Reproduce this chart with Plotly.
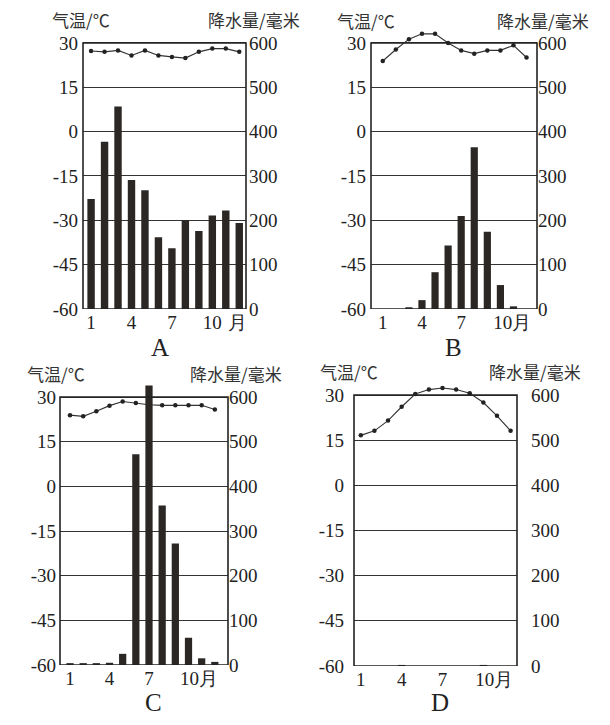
# Climate charts A-D: monthly temperature (line) and precipitation (bars)
import plotly.graph_objects as go

OFF = 8                      # page body margin in the browser
W, H = 610 - 2 * OFF, 725 - 2 * OFF

months = list(range(1, 13))

# temperature (°C)
temp_a = [27.3, 27.0, 27.5, 25.8, 27.5, 25.8, 25.3, 24.9, 27.0, 28.1, 28.1, 27.0]
temp_b = [23.9, 27.8, 31.3, 33.1, 33.1, 30.0, 27.5, 26.4, 27.5, 27.5, 29.2, 25.1]
temp_c = [23.9, 23.5, 25.2, 27.1, 28.5, 28.0, 27.4, 27.2, 27.2, 27.2, 27.2, 25.8]
temp_d = [16.6, 18.1, 21.5, 26.1, 30.3, 31.8, 32.3, 31.8, 30.6, 27.5, 23.1, 18.1]

# precipitation (mm)
rain_a = [248, 377, 457, 291, 268, 162, 137, 201, 176, 211, 222, 194]
rain_b = [0, 0, 2, 20, 83, 143, 210, 365, 174, 54, 6, 0]
rain_c = [2, 2, 2, 5, 25, 472, 626, 357, 272, 61, 15, 7]
rain_d = [0, 0, 0, 2, 0, 0, 0, 0, 0, 2, 0, 0]

temp_ticks = [-60, -45, -30, -15, 0, 15, 30]
temp_tick_text = ["-60", "-45", "-30", "-15", "0", "15", "30"]
rain_ticks = [0, 100, 200, 300, 400, 500, 600]
panel_names = ["A", "B", "C", "D"]

# per panel: box in window pixels (left, right, top=30°C line, bottom=-60°C line), x range, month ticks
boxes = [(83, 246, 43, 309), (371, 537, 43, 309), (60, 228, 397, 665), (354, 517, 395, 666)]
xranges = [[0.4, 12.5], [0.1, 12.8], [0.24, 13.0], [0.5, 12.47]]
xtick_vals = [[1, 4, 7, 10, 11.9], [1, 4, 7, 10.9], [1, 4, 7, 10.8], [1, 4, 7, 10.8]]
xtick_text = [["1", "4", "7", "10", "月"], ["1", "4", "7", "10月"],
              ["1", "4", "7", "10月"], ["1", "4", "7", "10月"]]
left_gap = [4, 4, 3, 9]
right_gap = [2, 0, 0, 13]
temp_titles = [(81, 20), (366, 21), (56, 373), (349, 371)]
rain_titles = [(254, 20), (543, 21), (236, 373), (535, 371)]
letters = [(160, 348), (453, 348), (153, 702), (440, 702)]

temps = [temp_a, temp_b, temp_c, temp_d]
rains = [rain_a, rain_b, rain_c, rain_d]

TOP = 36  # axis runs a bit above the 30° box top


def px(xp):
    return (xp - OFF) / W


def py(yp):
    return 1 - (yp - OFF) / H


serif = dict(family="Liberation Serif, Times New Roman, serif", size=19, color="#222")
cjk = dict(family="Noto Sans CJK SC", size=17, color="#333")

fig = go.Figure()
layout = dict(width=W, height=H, margin=dict(l=0, r=0, t=0, b=0),
              paper_bgcolor="white", plot_bgcolor="white", showlegend=False)
shapes, annotations = [], []

for i in range(4):
    left, right, top, bottom = boxes[i]
    scale = (bottom - top) / 90.0
    top_ext = top - (TOP - 30) * scale
    xd = [px(left), px(right)]
    yd = [py(bottom), py(top_ext)]

    xn = "x" if i == 0 else "x%d" % (i + 1)
    yl = "y%d" % (2 * i + 1) if i > 0 else "y"
    yr = "y%d" % (2 * i + 2)
    xk = "xaxis" if i == 0 else "xaxis%d" % (i + 1)
    ylk = "yaxis" if i == 0 else "yaxis%d" % (2 * i + 1)
    yrk = "yaxis%d" % (2 * i + 2)

    layout[xk] = dict(domain=xd, anchor=yl, range=xranges[i], tickvals=xtick_vals[i],
                      ticktext=xtick_text[i], showgrid=False, zeroline=False, showline=False,
                      ticks="", tickfont=serif, automargin=False)
    layout[ylk] = dict(domain=yd, anchor=xn, range=[-60, TOP], tickvals=temp_ticks,
                       ticktext=temp_tick_text,
                       showgrid=True, gridcolor="#333", gridwidth=1, zeroline=False,
                       showline=False, ticks="", tickfont=serif, automargin=False,
                       ticklabelstandoff=left_gap[i])
    layout[yrk] = dict(domain=yd, anchor=xn, overlaying=yl, side="right",
                       range=[0, 600 * (TOP + 60) / 90.0], tickvals=rain_ticks,
                       showgrid=False, zeroline=False, showline=False, ticks="",
                       tickfont=serif, automargin=False, ticklabelstandoff=right_gap[i])

    fig.add_trace(go.Bar(x=months, y=rains[i], width=0.55, marker=dict(color="#2b2725", line=dict(width=0)),
                         xaxis=xn, yaxis=yr))
    fig.add_trace(go.Scatter(x=months, y=temps[i], mode="lines+markers",
                             line=dict(color="#333", width=1.1),
                             marker=dict(color="#222", size=4.5),
                             xaxis=xn, yaxis=yl))

    # chart frame from -60 to 30
    shapes.append(dict(type="rect", xref=xn + " domain", yref=yl, x0=0, x1=1, y0=-60, y1=30,
                       line=dict(color="#222", width=1.6), layer="above"))

    annotations.append(dict(text="气温/℃", x=px(temp_titles[i][0]), y=py(temp_titles[i][1]),
                            xref="paper", yref="paper", xanchor="center", yanchor="middle",
                            showarrow=False, font=cjk))
    annotations.append(dict(text="降水量/毫米", x=px(rain_titles[i][0]), y=py(rain_titles[i][1]),
                            xref="paper", yref="paper", xanchor="center", yanchor="middle",
                            showarrow=False, font=cjk))
    annotations.append(dict(text=panel_names[i], x=px(letters[i][0]), y=py(letters[i][1]),
                            xref="paper", yref="paper", xanchor="center", yanchor="middle",
                            showarrow=False,
                            font=dict(family="Liberation Serif, Times New Roman, serif", size=25, color="#222")))

layout["shapes"] = shapes
layout["annotations"] = annotations
fig.update_layout(**layout)

fig.write_html("out.html")
